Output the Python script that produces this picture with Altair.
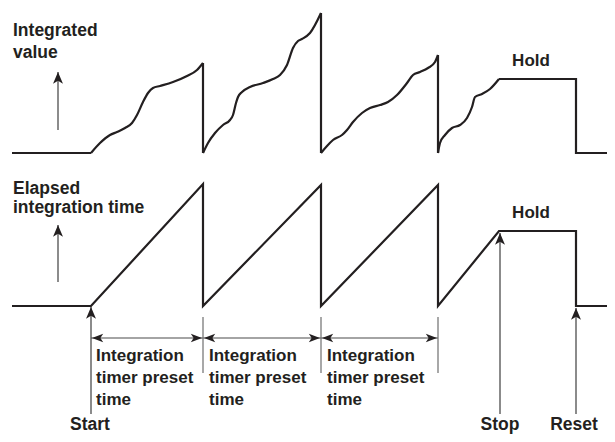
import altair as alt
import pandas as pd

# ---------------- data (diagram units: time -> right, level -> down) ----------------
# Integrated value: straight parts
top_lin_segs = {
    "base": ([12, 91], [153, 153]),
    "drop1": ([203, 203], [63, 153]),
    "drop2": ([321, 321], [13, 153]),
    "drop3": ([438, 438], [55, 153]),
    "hold": ([499, 576, 576, 615], [79, 79, 153, 153]),
}
# Integrated value: curved rises
top_curve_segs = {
    "c1": ([91, 100, 110, 117, 125, 132, 137, 143, 148, 153, 160, 173, 187, 197, 203],
           [153, 143, 135, 132, 128, 123, 115, 102, 93, 88, 86, 82, 76, 70, 63]),
    "c2": ([203, 208, 215, 223, 230, 233, 236, 238, 242, 250, 263, 273, 280, 287, 293, 298, 302, 310, 321],
           [153, 143, 133, 125, 120, 115, 103, 97, 92, 87, 83, 79, 75, 65, 48, 41, 39, 33, 13]),
    "c3": ([321, 327, 333, 342, 347, 353, 362, 370, 380, 388, 397, 407, 413, 420, 428, 435, 438],
           [153, 146, 140, 135, 130, 122, 113, 108, 105, 102, 95, 83, 75, 72, 68, 62, 55]),
    "c4": ([438, 440, 445, 452, 460, 467, 472, 475, 482, 490, 499],
           [153, 143, 135, 128, 125, 118, 107, 97, 94, 89, 79]),
}
# Elapsed integration time (sawtooth)
bot_x = [12, 91, 203, 203, 321, 321, 438, 438, 499, 576, 576, 615]
bot_y = [306, 306, 184, 306, 185, 306, 185, 306, 231, 231, 306, 306]

# gray axis arrows (x, y_from, y_tip)
axis_arrow_x = [58, 58]
axis_arrow_from = [130, 282]
axis_arrow_tip = [72, 225]

# preset-time interval boundaries
bounds = [91, 203, 321, 438]
interval_y = 338
tick_top, tick_bot = 317, 373

# event arrows
event_x = [91, 500, 576]
event_from = [414, 414, 414]
event_tip = [307, 233, 308]
event_labels = ["Start", "Stop", "Reset"]
event_label_x = [90, 500, 574]
event_label_y = [430, 430, 430]

# text labels
left_labels = ["Integrated", "value", "Elapsed", "integration time"]
left_x = [13, 13, 13, 13]
left_y = [36, 58, 194, 213]
hold_labels = ["Hold", "Hold"]
hold_x = [531, 531]
hold_y = [66, 218]
preset_lines = ["Integration", "timer preset", "time"]
preset_x = [96, 209, 327]
preset_y = [361, 383, 405]

# ---------------- build tables ----------------
rows = []
for name, (xs, ys) in top_lin_segs.items():
    for i, (a, b) in enumerate(zip(xs, ys)):
        rows.append({"t": a, "v": b, "seg": name, "o": i})
for i, (a, b) in enumerate(zip(bot_x, bot_y)):
    rows.append({"t": a, "v": b, "seg": "bottom", "o": i})
lin_df = pd.DataFrame(rows)

rows = []
for name, (xs, ys) in top_curve_segs.items():
    for i, (a, b) in enumerate(zip(xs, ys)):
        rows.append({"t": a, "v": b, "seg": name, "o": i})
curve_df = pd.DataFrame(rows)

axis_df = pd.DataFrame({"t": axis_arrow_x, "v": axis_arrow_from, "v2": axis_arrow_tip})
event_df = pd.DataFrame({"t": event_x, "v": event_from, "v2": event_tip})
up_heads = pd.DataFrame({"t": axis_arrow_x + event_x, "v": axis_arrow_tip + event_tip})

int_df = pd.DataFrame({"t": bounds[:-1], "t2": bounds[1:], "v": [interval_y] * 3})
tick_df = pd.DataFrame({"t": bounds[1:], "v": [tick_top] * 3, "v2": [tick_bot] * 3})
left_heads = pd.DataFrame({"t": [b + 1 for b in bounds[:-1]], "v": [interval_y] * 3})
right_heads = pd.DataFrame({"t": [b - 1 for b in bounds[1:]], "v": [interval_y] * 3})

left_df = pd.DataFrame({"t": left_x, "v": left_y, "txt": left_labels})
hold_df = pd.DataFrame({"t": hold_x, "v": hold_y, "txt": hold_labels})
ev_txt_df = pd.DataFrame({"t": event_label_x, "v": event_label_y, "txt": event_labels})
rows = []
for px in preset_x:
    for line, py in zip(preset_lines, preset_y):
        rows.append({"t": px, "v": py, "txt": line})
preset_df = pd.DataFrame(rows)

# ---------------- chart ----------------
XS = alt.Scale(domain=[8, 607], nice=False, zero=False)
YS = alt.Scale(domain=[8, 434], reverse=True, nice=False, zero=False)
X = alt.X("t:Q", scale=XS, axis=None)
Y = alt.Y("v:Q", scale=YS, axis=None)
INK = "#231f20"
FONT = "Liberation Sans"

lin = alt.Chart(lin_df).mark_line(color=INK, strokeWidth=2.2, strokeJoin="miter").encode(
    x=X, y=Y, detail="seg:N", order="o:Q")
cur = alt.Chart(curve_df).mark_line(color=INK, strokeWidth=2.2, interpolate="monotone").encode(
    x=X, y=Y, detail="seg:N", order="o:Q")

axis_rules = alt.Chart(axis_df).mark_rule(color="#8c8c8c", strokeWidth=2).encode(
    x=X, y=Y, y2="v2:Q")
event_rules = alt.Chart(event_df).mark_rule(color="#6e6e6e", strokeWidth=1.6).encode(
    x=X, y=Y, y2="v2:Q")
int_rules = alt.Chart(int_df).mark_rule(color="#4a4a4a", strokeWidth=1.2).encode(
    x=X, x2="t2:Q", y=Y)
tick_rules = alt.Chart(tick_df).mark_rule(color="#6e6e6e", strokeWidth=1.2).encode(
    x=X, y=Y, y2="v2:Q")

UP = "M0,0L0.42,1L0,0.75L-0.42,1Z"
LEFT = "M0,0L1,-0.38L0.75,0L1,0.38Z"
RIGHT = "M0,0L-1,-0.38L-0.75,0L-1,0.38Z"
up_h = alt.Chart(up_heads).mark_point(shape=UP, size=560, filled=True, color=INK,
                                      opacity=1, strokeWidth=0).encode(x=X, y=Y)
l_h = alt.Chart(left_heads).mark_point(shape=LEFT, size=500, filled=True, color=INK,
                                       opacity=1, strokeWidth=0).encode(x=X, y=Y)
r_h = alt.Chart(right_heads).mark_point(shape=RIGHT, size=500, filled=True, color=INK,
                                        opacity=1, strokeWidth=0).encode(x=X, y=Y)

left_t = alt.Chart(left_df).mark_text(align="left", baseline="alphabetic", font=FONT,
                                      fontWeight="bold", fontSize=17.5, color=INK).encode(
    x=X, y=Y, text="txt:N")
hold_t = alt.Chart(hold_df).mark_text(align="center", baseline="alphabetic", font=FONT,
                                      fontWeight="bold", fontSize=17, color=INK).encode(
    x=X, y=Y, text="txt:N")
ev_t = alt.Chart(ev_txt_df).mark_text(align="center", baseline="alphabetic", font=FONT,
                                      fontWeight="bold", fontSize=17.5, color=INK).encode(
    x=X, y=Y, text="txt:N")
pre_t = alt.Chart(preset_df).mark_text(align="left", baseline="alphabetic", font=FONT,
                                       fontWeight="bold", fontSize=17, color=INK).encode(
    x=X, y=Y, text="txt:N")

chart = alt.layer(
    axis_rules, event_rules, int_rules, tick_rules,
    lin, cur, up_h, l_h, r_h,
    left_t, hold_t, ev_t, pre_t,
).properties(
    width=599, height=426, padding=0, autosize=alt.AutoSizeParams(type="none"),
    background="white",
).configure_view(stroke=None)

chart.save("out.html", embed_options={"renderer": "svg", "actions": False})
